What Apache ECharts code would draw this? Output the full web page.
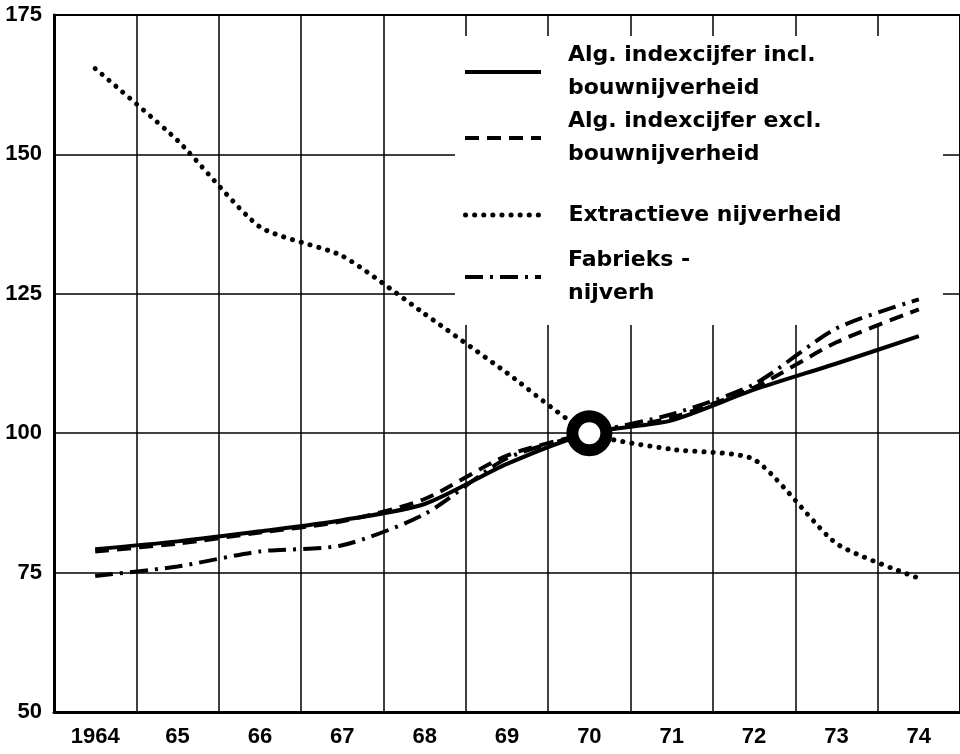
<!DOCTYPE html>
<html>
<head>
<meta charset="utf-8">
<script src="https://cdn.jsdelivr.net/npm/echarts@6/dist/echarts.min.js"></script>
<style>
  html, body { margin: 0; padding: 0; background: #fff; }
  #main { width: 960px; height: 754px; }
</style>
</head>
<body>
<div id="main"></div>
<script>
// categorieën (jaren) en reeksen
var years = ['1964', '65', '66', '67', '68', '69', '70', '71', '72', '73', '74'];
var inclBouw = [79.2, 80.6, 82.4, 84.4, 87.3, 94.5, 100, 102.3, 107.8, 112.5, 117.4];
var exclBouw = [78.8, 80.2, 82.2, 84.2, 88.2, 96, 100, 102.8, 108.2, 116.3, 122.2];
var extractief = [165.4, 152.5, 137, 131.8, 121.4, 110.8, 100, 97.1, 95.3, 80.2, 74];
var fabrieks = [74.4, 76.1, 78.8, 79.9, 85.5, 95.5, 100, 103.4, 108.8, 118.8, 124];
var basisJaar = [['70', 100]];

var names = [
    'Alg. indexcijfer incl.\nbouwnijverheid',
    'Alg. indexcijfer excl.\nbouwnijverheid',
    'Extractieve nijverheid',
    'Fabrieks -\nnijverh'
];

var myChart = echarts.init(document.getElementById('main'));

var axisFont = {
    color: '#000',
    fontFamily: '"Liberation Sans", Arial, sans-serif',
    fontWeight: 'bold',
    fontSize: 22
};

function legendItem(name, top, lineStyle, twoLines) {
    return {
        data: [name],
        left: 463,
        top: top,
        padding: 0,
        itemWidth: 76,
        itemHeight: 14,
        selectedMode: false,
        lineStyle: lineStyle,
        itemStyle: { color: 'rgba(0,0,0,0)', borderWidth: 0 },
        textStyle: {
            color: '#000',
            fontFamily: '"DejaVu Sans", sans-serif',
            fontWeight: 'bold',
            fontSize: 22,
            lineHeight: 33,
            padding: twoLines ? [33, 0, 0, 22] : [0, 0, 0, 22]
        }
    };
}

var option = {
    animation: false,
    grid: {
        left: 54,
        right: -5,
        top: 15,
        bottom: 42,
        show: true,
        borderColor: '#000',
        borderWidth: 2
    },
    legend: [
        legendItem(names[0], 22.5, { width: 4, type: 'solid', color: '#000' }, true),
        legendItem(names[1], 88.5, { width: 4, type: [14, 8], color: '#000' }, true),
        legendItem(names[2], 198.5, { width: 5, type: [0.1, 9], cap: 'round', color: '#000' }, false),
        legendItem(names[3], 227.5, { width: 4, type: [18, 7, 3, 7], color: '#000' }, true)
    ],
    graphic: [{
        type: 'rect',
        z: 1,
        shape: { x: 455, y: 36, width: 488, height: 289 },
        style: { fill: '#fff' }
    }],
    xAxis: {
        type: 'category',
        data: years,
        boundaryGap: true,
        axisLine: { lineStyle: { color: '#000', width: 3 } },
        axisTick: { show: false },
        axisLabel: Object.assign({ margin: 14 }, axisFont),
        splitLine: { show: true, lineStyle: { color: '#000', width: 1.5 } }
    },
    yAxis: {
        type: 'value',
        min: 50,
        max: 175,
        interval: 25,
        axisLine: { show: true, lineStyle: { color: '#000', width: 3 } },
        axisTick: { show: false },
        axisLabel: Object.assign({ margin: 12 }, axisFont),
        splitLine: { show: true, lineStyle: { color: '#000', width: 1.5 } }
    },
    series: [
        {
            name: names[0],
            type: 'line',
            data: inclBouw,
            symbol: 'none',
            smooth: 0.25,
            lineStyle: { color: '#000', width: 4 }
        },
        {
            name: names[1],
            type: 'line',
            data: exclBouw,
            symbol: 'none',
            smooth: 0.25,
            lineStyle: { color: '#000', width: 4, type: [14, 8] }
        },
        {
            name: names[2],
            type: 'line',
            data: extractief,
            symbol: 'none',
            smooth: 0.2,
            lineStyle: { color: '#000', width: 5, type: [0.1, 9], cap: 'round' }
        },
        {
            name: names[3],
            type: 'line',
            data: fabrieks,
            symbol: 'none',
            smooth: 0.25,
            lineStyle: { color: '#000', width: 4, type: [18, 7, 3, 7] }
        },
        {
            name: 'basis 1970 = 100',
            type: 'scatter',
            data: basisJaar,
            symbol: 'circle',
            symbolSize: 34,
            z: 5,
            itemStyle: { color: '#fff', borderColor: '#000', borderWidth: 12, opacity: 1 }
        }
    ]
};

myChart.setOption(option);
</script>
</body>
</html>
